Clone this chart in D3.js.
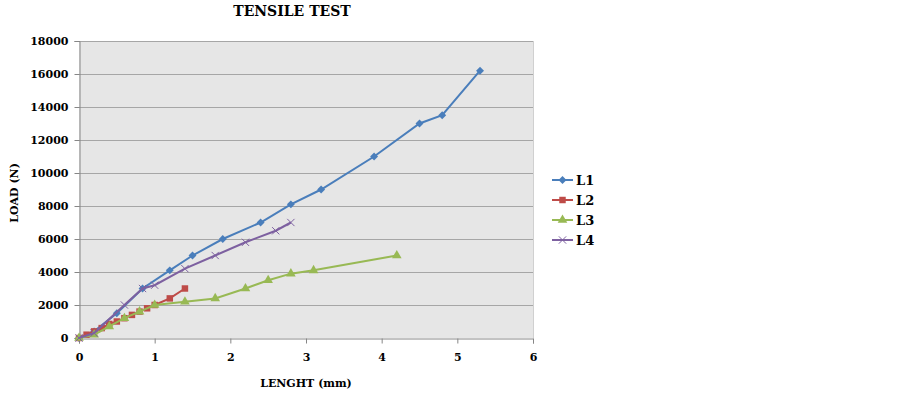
<!DOCTYPE html>
<html>
<head>
<meta charset="utf-8">
<script src="https://cdn.jsdelivr.net/npm/d3@7"></script>
<style>
    body { margin: 0; background: #fff; }
    text { font-family: "DejaVu Serif", serif; font-weight: bold; }
</style>
</head>
<body>
<div id="chart"></div>
<script>
// values
const xTicks = [0, 1, 2, 3, 4, 5, 6];
const yTicks = [0, 2000, 4000, 6000, 8000, 10000, 12000, 14000, 16000, 18000];
const seriesNames = ["L1", "L2", "L3", "L4"];

const l1 = [[0, 0], [0.2, 400], [0.5, 1500], [0.84, 3000], [1.2, 4100], [1.5, 5000], [1.9, 6000],
    [2.4, 7000], [2.8, 8100], [3.2, 9000], [3.9, 11000], [4.5, 13000], [4.8, 13500], [5.3, 16200]];
const l2 = [[0, 0], [0.1, 200], [0.2, 400], [0.3, 600], [0.4, 850], [0.5, 1000], [0.6, 1200],
    [0.7, 1400], [0.8, 1600], [0.9, 1800], [1.0, 2000], [1.2, 2400], [1.4, 3000]];
const l3 = [[0, 0], [0.2, 200], [0.4, 700], [0.6, 1200], [0.8, 1600], [1.0, 2000], [1.4, 2200],
    [1.8, 2400], [2.2, 3000], [2.5, 3500], [2.8, 3900], [3.1, 4100], [4.2, 5000]];
const l4 = [[0, 0], [0.2, 300], [0.6, 2000], [0.84, 3000], [1.0, 3200], [1.4, 4200], [1.8, 5000],
    [2.2, 5800], [2.6, 6500], [2.8, 7000]];

const colors = ["#4a7ebb", "#be4b48", "#98b954", "#7d60a0"];
const symbols = [d3.symbolDiamond2, d3.symbolSquare, d3.symbolTriangle, d3.symbolX];

function drawChart(selector = "#chart") {
    const width = 903;
    const height = 393;
    const margin = { top: 41, right: 370, bottom: 55, left: 79 };

    const x = d3.scaleLinear()
        .domain([0, 6])
        .range([margin.left, width - margin.right]);

    const y = d3.scaleLinear()
        .domain([0, 18000])
        .range([height - margin.bottom, margin.top]);

    const svg = d3.select(selector)
        .append("svg")
        .attr("width", width)
        .attr("height", height);

    svg.append("rect")
        .attr("x", x(0))
        .attr("y", y(18000))
        .attr("width", x(6) - x(0))
        .attr("height", y(0) - y(18000))
        .attr("fill", "#e6e6e6");

    // horizontal grid
    svg.append("g")
        .selectAll("line")
        .data(yTicks.slice(1))
        .join("line")
        .attr("x1", x(0))
        .attr("x2", x(6))
        .attr("y1", d => Math.round(y(d)) + 0.5)
        .attr("y2", d => Math.round(y(d)) + 0.5)
        .attr("stroke", "#a6a6a6")
        .attr("stroke-width", 1);

    // right edge of the plot area
    svg.append("line")
        .attr("x1", Math.round(x(6)) + 0.5)
        .attr("x2", Math.round(x(6)) + 0.5)
        .attr("y1", y(18000))
        .attr("y2", y(0))
        .attr("stroke", "#d0d0d0");

    const xAxis = svg.append("g")
        .attr("transform", `translate(0,${Math.round(y(0)) + 0.5})`)
        .call(d3.axisBottom(x).tickValues(xTicks).tickSize(5).tickPadding(10).tickFormat(d3.format("d")));

    const yAxis = svg.append("g")
        .attr("transform", `translate(${Math.round(x(0)) + 0.5},0)`)
        .call(d3.axisLeft(y).tickValues(yTicks).tickSize(5).tickPadding(6).tickFormat(d => d));

    [xAxis, yAxis].forEach(a => {
        a.select(".domain").attr("stroke", "#868686");
        a.selectAll(".tick line").attr("stroke", "#868686");
        a.selectAll(".tick text")
            .style("font-family", "DejaVu Serif")
            .style("font-weight", "bold")
            .style("font-size", "11px")
            .attr("fill", "#000");
    });

    svg.append("text")
        .attr("x", 292)
        .attr("y", 16)
        .attr("text-anchor", "middle")
        .style("font-size", "14px")
        .text("TENSILE TEST");

    svg.append("text")
        .attr("x", (x(0) + x(6)) / 2)
        .attr("y", 387)
        .attr("text-anchor", "middle")
        .style("font-size", "11px")
        .text("LENGHT (mm)");

    svg.append("text")
        .attr("transform", "rotate(-90)")
        .attr("x", -193)
        .attr("y", 18)
        .attr("text-anchor", "middle")
        .style("font-size", "11px")
        .text("LOAD (N)");

    const line = d3.line()
        .x(d => x(d[0]))
        .y(d => y(d[1]));

    const allSeries = [l1, l2, l3, l4];
    const markerSizes = [40, 42, 40, 36];

    allSeries.forEach((data, i) => {
        svg.append("path")
            .datum(data)
            .attr("fill", "none")
            .attr("stroke", colors[i])
            .attr("stroke-width", 2)
            .attr("d", line);

        svg.append("g")
            .selectAll("path")
            .data(data)
            .join("path")
            .attr("transform", d => `translate(${x(d[0])},${y(d[1])})`)
            .attr("d", d3.symbol(symbols[i], markerSizes[i]))
            .attr("fill", i === 3 ? "none" : colors[i])
            .attr("stroke", colors[i])
            .attr("stroke-width", i === 3 ? 1 : 0);
    });

    // legend
    const legend = svg.append("g")
        .attr("transform", "translate(552, 180)");

    seriesNames.forEach((name, i) => {
        const g = legend.append("g").attr("transform", `translate(0,${i * 20})`);
        g.append("line")
            .attr("x1", 0)
            .attr("x2", 21)
            .attr("stroke", colors[i])
            .attr("stroke-width", 2);
        g.append("path")
            .attr("transform", "translate(10.5,0)")
            .attr("d", d3.symbol(symbols[i], markerSizes[i])())
            .attr("fill", i === 3 ? "none" : colors[i])
            .attr("stroke", colors[i])
            .attr("stroke-width", i === 3 ? 1 : 0);
        g.append("text")
            .attr("x", 24)
            .attr("y", 4.5)
            .style("font-size", "13px")
            .text(name);
    });
}

drawChart();
</script>
</body>
</html>
